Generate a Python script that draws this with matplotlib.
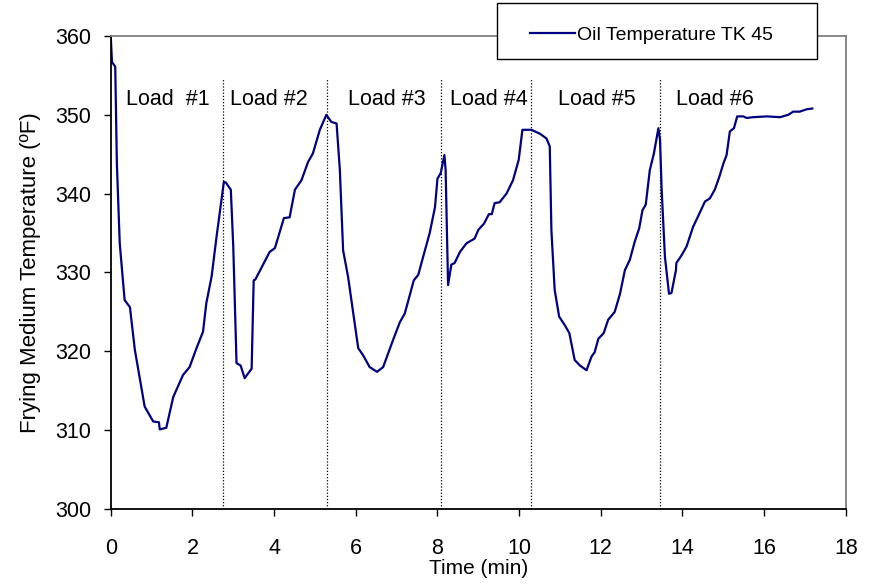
import numpy as np
import matplotlib
matplotlib.use("Agg")
import matplotlib.pyplot as plt
from matplotlib.patches import Rectangle

plt.rcParams['font.family'] = ['Liberation Sans', 'DejaVu Sans']

# oil temperature trace
time_min = [0.0, 0.03, 0.11, 0.15, 0.22, 0.34, 0.47, 0.59, 0.83, 1.04, 1.18, 1.20,
            1.36, 1.53, 1.77, 1.93, 2.10, 2.26, 2.34, 2.47, 2.59, 2.77, 2.82, 2.94,
            3.00, 3.08, 3.18, 3.28, 3.45, 3.50, 3.54, 3.73, 3.89, 4.02, 4.24, 4.38,
            4.51, 4.67, 4.83, 4.95, 5.12, 5.28, 5.40, 5.53, 5.61, 5.69, 5.81, 6.06,
            6.18, 6.34, 6.52, 6.67, 6.91, 7.08, 7.20, 7.42, 7.53, 7.65, 7.81, 7.94,
            8.00, 8.08, 8.17, 8.20, 8.26, 8.34, 8.42, 8.55, 8.71, 8.91, 9.00, 9.14,
            9.26, 9.33, 9.40, 9.52, 9.69, 9.85, 9.99, 10.08, 10.18, 10.30, 10.51,
            10.67, 10.75, 10.79, 10.87, 10.98, 11.12, 11.23, 11.36, 11.49, 11.65,
            11.77, 11.85, 11.94, 12.07, 12.18, 12.34, 12.47, 12.59, 12.71, 12.83,
            12.94, 13.02, 13.10, 13.20, 13.30, 13.41, 13.45, 13.49, 13.57, 13.67,
            13.73, 13.84, 13.85, 13.98, 14.10, 14.26, 14.38, 14.55, 14.67, 14.79,
            14.90, 15.00, 15.08, 15.16, 15.26, 15.34, 15.49, 15.57, 15.73, 16.06,
            16.39, 16.59, 16.71, 16.87, 17.04, 17.18]
oil_temp = [360.0, 356.7, 356.1, 343.8, 333.7, 326.5, 325.6, 320.2, 313.0, 311.1, 311.0, 310.1,
            310.3, 314.2, 317.0, 318.0, 320.4, 322.5, 326.1, 329.5, 334.5, 341.5, 341.4, 340.5,
            333.3, 318.5, 318.2, 316.6, 317.8, 329.0, 329.1, 331.0, 332.6, 333.1, 336.9, 337.0,
            340.5, 341.7, 344.0, 345.1, 348.1, 350.0, 349.1, 348.9, 343.0, 332.8, 329.5, 320.4,
            319.5, 318.0, 317.4, 318.0, 321.4, 323.7, 324.8, 329.0, 329.7, 332.0, 335.0, 338.3,
            341.9, 342.6, 344.9, 343.0, 328.4, 331.0, 331.2, 332.6, 333.7, 334.3, 335.4, 336.2,
            337.4, 337.4, 338.8, 338.9, 340.0, 341.7, 344.3, 348.1, 348.1, 348.1, 347.6,
            347.0, 346.0, 335.4, 327.8, 324.4, 323.3, 322.3, 318.9, 318.2, 317.6,
            319.3, 319.9, 321.6, 322.3, 324.0, 325.0, 327.3, 330.3, 331.6, 333.9,
            335.6, 337.9, 338.6, 343.0, 345.1, 348.3, 346.8, 340.5, 332.0, 327.3,
            327.4, 330.3, 331.2, 332.2, 333.3, 335.8, 337.1, 339.0, 339.4, 340.5,
            342.1, 343.8, 344.9, 347.9, 348.3, 349.8, 349.8, 349.6, 349.7, 349.8,
            349.7, 350.0, 350.4, 350.4, 350.7, 350.8]

load_starts = [2.74, 5.29, 8.08, 10.29, 13.46]
load_names = ['Load  #1', 'Load #2', 'Load #3', 'Load #4', 'Load #5', 'Load #6']
load_label_x = [1.4, 3.88, 6.76, 9.25, 11.9, 14.8]

fig = plt.figure(figsize=(8.72, 5.86), dpi=100)
ax = fig.add_axes([0.127, 0.1314, 0.843, 0.8072])

for xs in load_starts:
    ax.plot([xs, xs], [300, 354.5], color='black', linestyle=(0, (1, 1.5)), linewidth=0.9)

for name, xl in zip(load_names, load_label_x):
    ax.text(xl, 352, name, ha='center', va='center', fontsize=15.5)

ax.plot(time_min, oil_temp, color='#000080', linewidth=1.6, label='Oil Temperature TK 45')

ax.set_xlim(0, 18)
ax.set_ylim(300, 360)
ax.set_xticks(np.arange(0, 19, 2))
ax.set_yticks(np.arange(300, 361, 10))
ax.tick_params(axis='x', direction='out', length=5, width=1, pad=16, labelsize=15.5)
ax.tick_params(axis='y', direction='out', length=5, width=1, pad=9, labelsize=15.5)

ax.spines['left'].set_color('black')
ax.spines['bottom'].set_color('black')
ax.spines['top'].set_color('#808080')
ax.spines['right'].set_color('#808080')
for s in ax.spines.values():
    s.set_linewidth(1.3)

ax.set_xlabel('Time (min)', fontsize=15, labelpad=0)
ax.set_ylabel('Frying Medium Temperature (ºF)', fontsize=16, labelpad=10)

# legend box sits over the top spine
box = Rectangle((0.570, 0.899), 0.367, 0.096, transform=fig.transFigure,
                facecolor='white', edgecolor='black', linewidth=1.0, zorder=5)
fig.add_artist(box)
leg = fig.legend(loc='center', bbox_to_anchor=(0.747, 0.940), fontsize=14,
                 handlelength=2.3, handletextpad=0.1, frameon=False, borderpad=0)
leg.set_zorder(6)

fig.savefig('out.png', dpi=100)
